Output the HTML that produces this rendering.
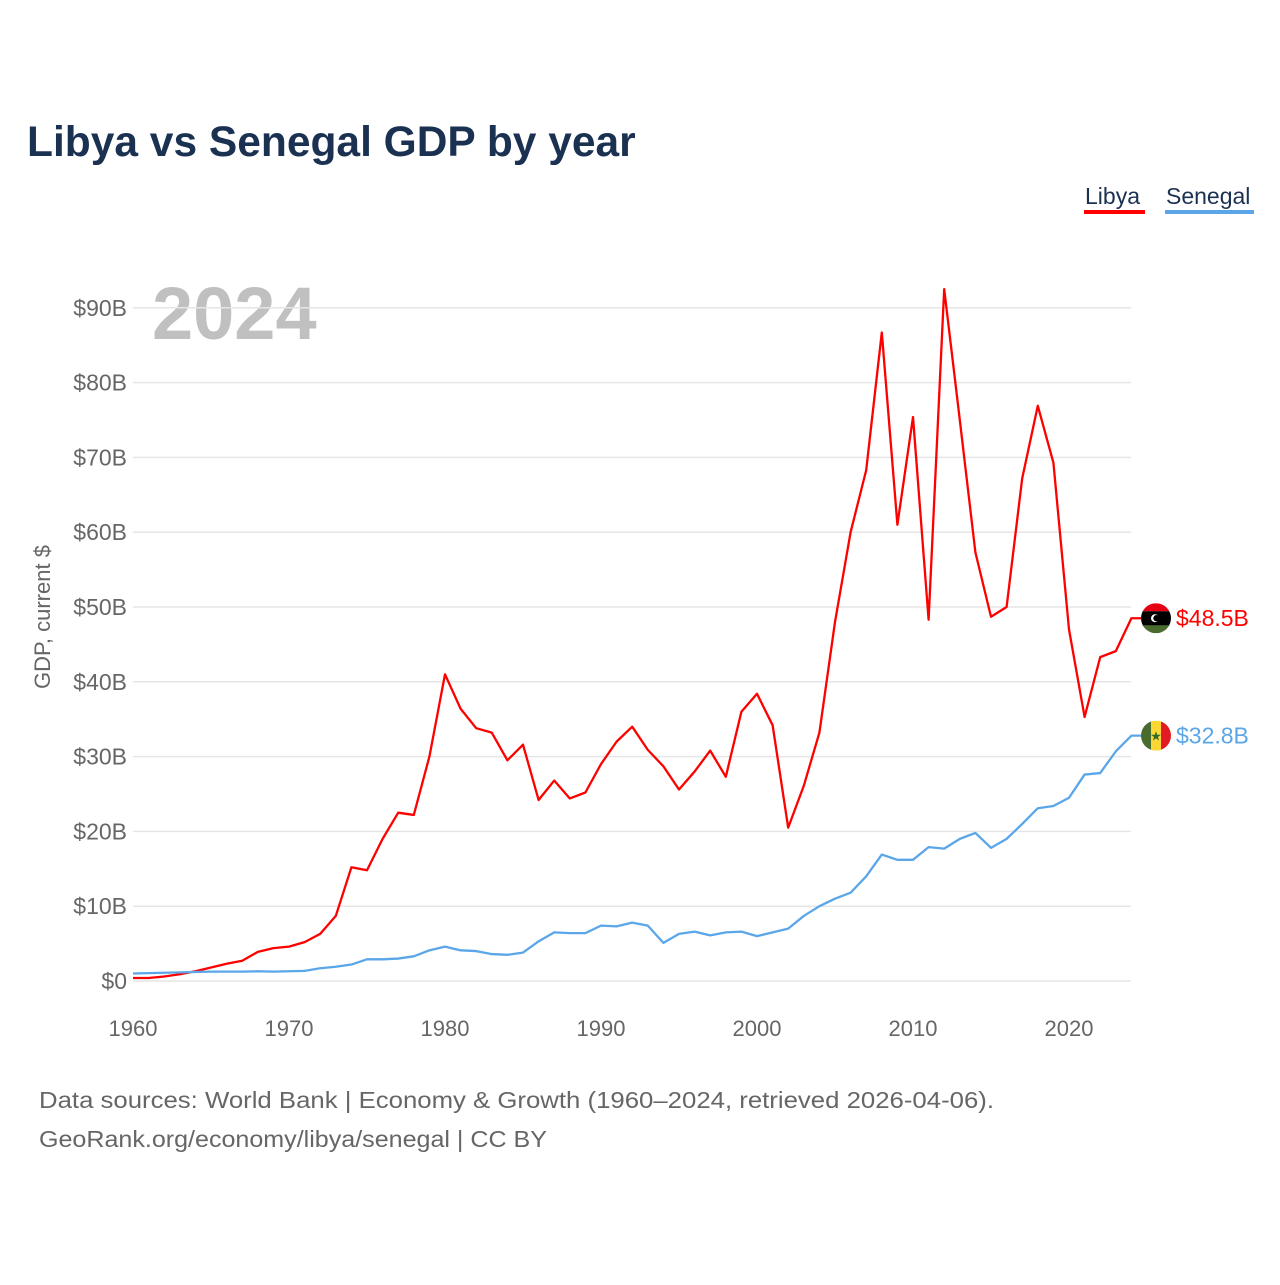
<!DOCTYPE html>
<html><head><meta charset="utf-8"><style>
body{margin:0;background:#fff;font-family:"Liberation Sans",sans-serif;}
svg text{font-family:"Liberation Sans",sans-serif;}
</style></head><body>
<svg id="chart" width="1280" height="1280" xmlns="http://www.w3.org/2000/svg">
<rect width="1280" height="1280" fill="#fff"/>
<text x="27" y="156" font-size="42.5" font-weight="bold" fill="#1b3152">Libya vs Senegal GDP by year</text>
<g>
<text x="1085" y="204" font-size="23" fill="#1b3152">Libya</text>
<rect x="1084" y="210" width="61" height="4" fill="#ff0000"/></g>
<g>
<text x="1166" y="204" font-size="23" fill="#1b3152">Senegal</text>
<rect x="1165" y="210" width="89" height="4" fill="#5aa6e8"/></g>
<text x="152" y="339" font-size="74" font-weight="bold" fill="#c0c0c0">2024</text>
<text transform="translate(50,617) rotate(-90)" text-anchor="middle" font-size="22" fill="#666">GDP, current $</text>
<g id="grid"></g><g id="xt"></g><g id="lines"></g>
<text x="39" y="1108" font-size="23" fill="#666" textLength="955" lengthAdjust="spacingAndGlyphs">Data sources: World Bank | Economy &amp; Growth (1960–2024, retrieved 2026-04-06).</text>
<text x="39" y="1147" font-size="23" fill="#666" textLength="508" lengthAdjust="spacingAndGlyphs">GeoRank.org/economy/libya/senegal | CC BY</text>
</svg>
<script>
const years=[];for(let y=1960;y<=2024;y++)years.push(y);
const libya=[0.4,0.4,0.6,0.9,1.3,1.8,2.3,2.7,3.9,4.4,4.6,5.2,6.3,8.7,15.2,14.8,19.0,22.5,22.2,30,41,36.4,33.8,33.2,29.5,31.6,24.2,26.8,24.4,25.2,29,32,34,30.9,28.7,25.6,28,30.8,27.3,36,38.4,34.2,20.5,26.1,33.2,48,60,68.3,86.7,61,75.4,48.3,92.5,75,57.3,48.7,50,67.2,76.9,69.3,47,35.3,43.3,44.1,48.5];
const senegal=[1.0,1.05,1.1,1.15,1.2,1.25,1.25,1.25,1.3,1.25,1.3,1.35,1.7,1.9,2.2,2.9,2.9,3.0,3.3,4.1,4.6,4.1,4.0,3.6,3.5,3.8,5.3,6.5,6.4,6.4,7.4,7.3,7.8,7.4,5.1,6.3,6.6,6.1,6.5,6.6,6.0,6.5,7.0,8.7,10.0,11.0,11.8,14.0,16.9,16.2,16.2,17.9,17.7,19.0,19.8,17.8,19.0,21.0,23.1,23.4,24.5,27.6,27.8,30.7,32.8];
const yTicks=[0,10,20,30,40,50,60,70,80,90];
const xTicks=[1960,1970,1980,1990,2000,2010,2020];
const NS="http://www.w3.org/2000/svg";
const X=y=>133+(y-1960)*15.6;
const Y=v=>981-v*7.48;
function mk(t,a,p){const e=document.createElementNS(NS,t);for(const k in a)e.setAttribute(k,a[k]);p.appendChild(e);return e;}
const g=document.getElementById('grid');
yTicks.forEach(v=>{
 const l=mk('line',{x1:133,x2:1131,y1:Y(v),y2:Y(v),stroke:'#e6e6e6','stroke-width':1.5},g);
 
 
 const t=mk('text',{x:127,y:Y(v)+8,'text-anchor':'end','font-size':23,fill:'#666'},g);
 
 
 t.textContent='$'+v+(v?'B':'');
});
const xt=document.getElementById('xt');
xTicks.forEach(v=>{
 const t=mk('text',{x:X(v),y:1036,'text-anchor':'middle','font-size':22,fill:'#666'},xt);
 
 
 t.textContent=v;
});
const L=document.getElementById('lines');
function series(data,col,name){
 const pts=data.map((v,i)=>X(years[i])+','+Y(v));
 const last=data[data.length-1];
 pts.push((X(2024)+10)+','+Y(last));
 const p=mk('polyline',{points:pts.join(' '),fill:'none',stroke:col,'stroke-width':2.3,'stroke-linejoin':'round'},L);
 
 
 const lb=mk('text',{x:1176,y:Y(last)+8,'font-size':23,fill:col},L);
 
 
 lb.textContent='$'+last.toFixed(1)+'B';
 return Y(last);
}
const ly=series(libya,'#ff0000','libya');
const sy=series(senegal,'#5aa6e8','senegal');
let f=mk('g',{},L);


const cp1=mk('clipPath',{id:'c1'},f);mk('circle',{cx:1156,cy:ly,r:15},cp1);
mk('rect',{x:1141,y:ly-15,width:30,height:8,fill:'#e70013','clip-path':'url(#c1)'},f);
mk('rect',{x:1141,y:ly-7,width:30,height:15,fill:'#000','clip-path':'url(#c1)'},f);
mk('rect',{x:1141,y:ly+7,width:30,height:8,fill:'#4a6b2e','clip-path':'url(#c1)'},f);
mk('circle',{cx:1155,cy:ly,r:4,fill:'#fff'},f);mk('circle',{cx:1156.5,cy:ly,r:3.2,fill:'#000'},f);
f=mk('g',{},L);


const cp=mk('clipPath',{id:'c2'},f);mk('circle',{cx:1156,cy:sy,r:15},cp);
mk('rect',{x:1141,y:sy-15,width:10,height:30,fill:'#4a6b2e','clip-path':'url(#c2)'},f);
mk('rect',{x:1151,y:sy-15,width:10,height:30,fill:'#fdd835','clip-path':'url(#c2)'},f);
mk('rect',{x:1161,y:sy-15,width:10,height:30,fill:'#e31b23','clip-path':'url(#c2)'},f);
const st=mk('text',{x:1156,y:sy+5,'text-anchor':'middle','font-size':13,fill:'#2e6b2e'},f);st.textContent='★';
</script>
</body></html>
